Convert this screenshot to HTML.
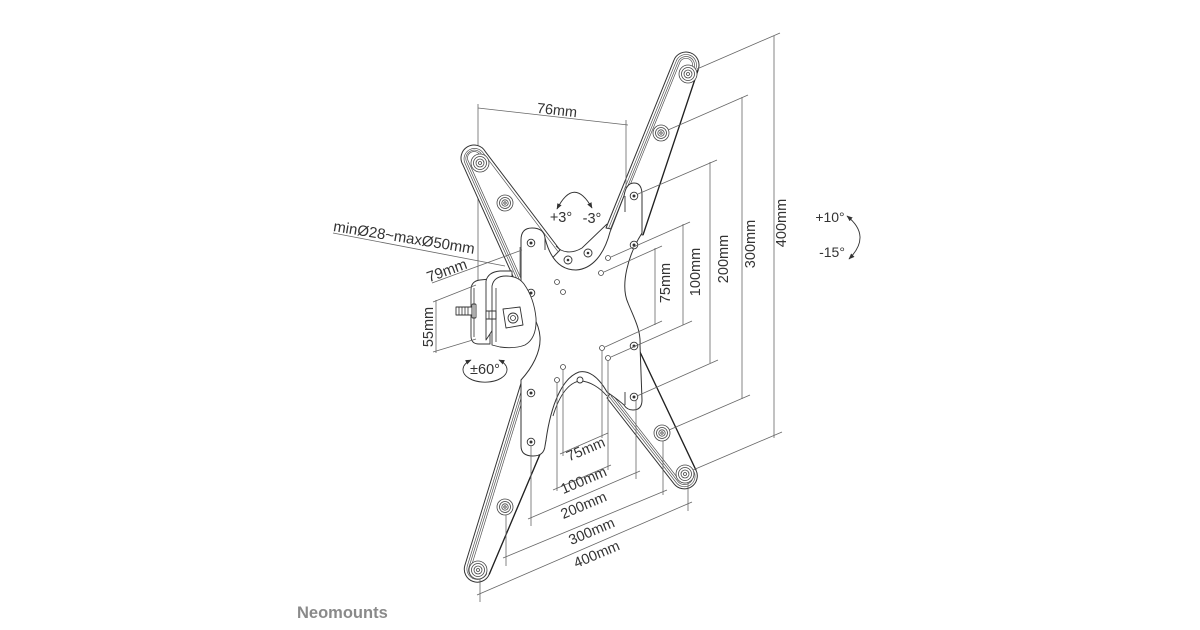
<!DOCTYPE html>
<html><head><meta charset="utf-8"><style>
html,body{margin:0;padding:0;background:#fff;}
svg{display:block;}
text{font-family:"Liberation Sans",sans-serif;fill:#333;}
</style></head><body>
<svg width="1200" height="630" viewBox="0 0 1200 630" xmlns="http://www.w3.org/2000/svg">
<defs>
<marker id="ah" viewBox="0 0 10 10" refX="9" refY="5" markerWidth="6" markerHeight="6" orient="auto-start-reverse" markerUnits="userSpaceOnUse"><path d="M0,1 L10,5 L0,9 z" fill="#333"/></marker>
</defs>
<rect width="1200" height="630" fill="#fff"/>

<g stroke="#666" stroke-width="0.8" fill="none">
<line x1="478" y1="104" x2="478" y2="288"/>
<line x1="333" y1="233" x2="505" y2="266"/>
</g>

<g stroke="#333" stroke-width="1" fill="#fff" stroke-linejoin="round">
<path d="M673.8,60.5 A13,13 0 0 1 698.2,69.5 L643,235 L606,228 Z"/>
<path d="M462.8,164.6 A13,13 0 0 1 485.2,151.4 L560,250 L520,292 Z"/>
<path d="M522,380 L464.8,565.6 A13,13 0 0 0 489.2,574.4 L546,440 L541,385 Q533,370 522,380 Z"/>
<path d="M640,352 L696,470.2 A13,13 0 0 1 674,483.8 L607,398 Z"/>
</g>
<g stroke="#222" stroke-width="1.3" fill="none">
<line x1="698.2" y1="69.5" x2="643" y2="235"/>
<line x1="489.2" y1="574.4" x2="546" y2="440"/>
<line x1="640" y1="352" x2="696" y2="470.2"/>
</g>
<g stroke="#555" stroke-width="0.7" fill="none">
<path d="M608.3,229 L676.1,61.4 A10.5,10.5 0 0 1 695.9,68.6"/>
<path d="M610.2,229.6 L678,62.1 A8.5,8.5 0 0 1 694,67.9"/>
<path d="M611.8,230 L679.7,62.8 A6.5,6.5 0 0 1 692.3,67.2"/>
<path d="M522.2,290.7 L465,163.3 A10.5,10.5 0 0 1 483,152.7 L557.8,251.3"/>
<path d="M523.9,289.7 L466.7,162.3 A8.5,8.5 0 0 1 481.3,153.7"/>
<path d="M525.6,288.7 L468.4,161.3 A6.5,6.5 0 0 1 479.6,154.7"/>
<path d="M524.4,381 L467.2,566.4 A10.5,10.5 0 0 0 486.8,573.6"/>
<path d="M526.2,381.5 L469,567.1 A8.5,8.5 0 0 0 485,572.9"/>
<path d="M528,382 L470.9,567.8 A6.5,6.5 0 0 0 483.1,572.2"/>
<path d="M609.1,396.7 L676.1,482.5 A10.5,10.5 0 0 0 693.9,471.5"/>
<path d="M610.8,395.6 L677.8,481.4 A8.5,8.5 0 0 0 692.2,472.6"/>
<path d="M612.5,394.6 L679.5,480.4 A6.5,6.5 0 0 0 690.5,473.6"/>
</g>
<g stroke="#444" stroke-width="0.8" fill="#fff">
<circle cx="688" cy="74" r="9"/><circle cx="688" cy="74" r="6.5"/><circle cx="688" cy="74" r="4"/><circle cx="688" cy="74" r="1.5"/>
<circle cx="661" cy="133" r="8"/><circle cx="661" cy="133" r="5.5"/><circle cx="661" cy="133" r="3.2"/><circle cx="661" cy="133" r="1.2"/>
<circle cx="480" cy="163" r="9"/><circle cx="480" cy="163" r="6.5"/><circle cx="480" cy="163" r="4"/><circle cx="480" cy="163" r="1.5"/>
<circle cx="505" cy="203" r="8"/><circle cx="505" cy="203" r="5.5"/><circle cx="505" cy="203" r="3.2"/><circle cx="505" cy="203" r="1.2"/>
<circle cx="478" cy="570" r="9"/><circle cx="478" cy="570" r="6.5"/><circle cx="478" cy="570" r="4"/><circle cx="478" cy="570" r="1.5"/>
<circle cx="505" cy="507" r="8"/><circle cx="505" cy="507" r="5.5"/><circle cx="505" cy="507" r="3.2"/><circle cx="505" cy="507" r="1.2"/>
<circle cx="662" cy="433" r="8"/><circle cx="662" cy="433" r="5.5"/><circle cx="662" cy="433" r="3.2"/><circle cx="662" cy="433" r="1.2"/>
<circle cx="685" cy="474" r="9"/><circle cx="685" cy="474" r="6.5"/><circle cx="685" cy="474" r="4"/><circle cx="685" cy="474" r="1.5"/>
</g>

<line x1="626" y1="120" x2="626" y2="208" stroke="#666" stroke-width="0.8"/>

<path d="M521,240 Q521,228 532,228 Q544,228 545,238 C550,258 560,270 576,270 C592,269 604,255 610,232 L624,196 Q626,183 634,183 Q642,183 642,195 L642,233 C628,255 620,285 628,303 C634,318 641,330 640,345 L642,400 Q642,410 633,410 Q627,410 624,405 C616,398 611,395 607,392 C598,376 588,370 579,372 C562,378 551,405 546,440 L545,446 Q544,456 533,456 Q521,456 521,446 L521,380 C532,368 541,352 540,337 C539,322 530,310 521,300 Z" fill="#fff" stroke="#333" stroke-width="1" stroke-linejoin="round"/>
<g stroke="#333" stroke-width="0.9" fill="none">
<path d="M556,246 C562,253 572,254 582,248 L607,224"/>
<path d="M553,416 C560,393 570,382 580,381 C590,381 600,388 607,396"/>
<line x1="625" y1="196" x2="625" y2="212"/>
<line x1="625" y1="392" x2="625" y2="405"/>
<line x1="545" y1="238" x2="545" y2="250"/>
</g>
<g stroke="#333" stroke-width="0.9" fill="#fff">
<circle cx="568" cy="260" r="4"/><circle cx="588" cy="253" r="4"/><circle cx="580" cy="380" r="3"/>
<circle cx="531" cy="243" r="3.8"/><circle cx="531" cy="293" r="3.8"/><circle cx="531" cy="393" r="3.8"/><circle cx="531" cy="442" r="3.8"/>
<circle cx="634" cy="196" r="3.8"/><circle cx="634" cy="245" r="3.8"/><circle cx="634" cy="346" r="3.8"/><circle cx="634" cy="397" r="3.8"/>
</g>
<g fill="#333">
<circle cx="531" cy="243" r="1.5"/><circle cx="531" cy="293" r="1.5"/><circle cx="531" cy="393" r="1.5"/><circle cx="531" cy="442" r="1.5"/>
<circle cx="634" cy="196" r="1.5"/><circle cx="634" cy="245" r="1.5"/><circle cx="634" cy="346" r="1.5"/><circle cx="634" cy="397" r="1.5"/>
<circle cx="568" cy="260" r="1.3"/><circle cx="588" cy="253" r="1.3"/>
</g>
<g stroke="#444" stroke-width="0.8" fill="#fff">
<circle cx="557" cy="282" r="2.5"/><circle cx="563" cy="292" r="2.5"/><circle cx="601" cy="273" r="2.5"/><circle cx="608" cy="258" r="2.5"/>
<circle cx="557" cy="380" r="2.5"/><circle cx="563" cy="367" r="2.5"/><circle cx="602" cy="348" r="2.5"/><circle cx="608" cy="358" r="2.5"/>
</g>

<g stroke="#333" stroke-width="0.9" fill="#fff" stroke-linejoin="round">
<path d="M471,290 Q471,281 480,280 L490,279 L490,344 L479,344 Q471,344 471,336 Z"/>
<path d="M486,281 Q488,272 500,271 L512,271 L512,300 L486,340 Z" fill="#fff"/>
<path d="M492,286 Q494,276 506,276 Q518,276 524,284 Q534,298 536,318 Q537,338 525,345 Q515,349 500,347 L492,345 Z"/>
<rect x="456" y="307" width="16" height="8"/>
<rect x="472" y="304" width="4" height="14" rx="1"/>
<rect x="486" y="311" width="10" height="8"/>
<path d="M503,309 L520,307 L523,325 L506,328 Z"/>
<circle cx="513" cy="318" r="5"/>
</g>
<g stroke="#333" stroke-width="0.8" fill="none">
<line x1="474" y1="288" x2="474" y2="337"/>
<line x1="496" y1="288" x2="496" y2="342"/>
<line x1="459" y1="307" x2="459" y2="315"/><line x1="462" y1="307" x2="462" y2="315"/><line x1="465" y1="307" x2="465" y2="315"/><line x1="468" y1="307" x2="468" y2="315"/>
<line x1="489" y1="311" x2="489" y2="319"/><line x1="492" y1="311" x2="492" y2="319"/>
<circle cx="513" cy="318" r="2.5"/>
</g>

<g stroke="#666" stroke-width="0.8" fill="none">
<line x1="478" y1="108" x2="628" y2="125"/>
<line x1="432" y1="283" x2="522" y2="250"/>
<line x1="520" y1="247" x2="520" y2="277"/>
<line x1="436" y1="300" x2="436" y2="353"/>
<line x1="433" y1="302" x2="476" y2="285"/>
<line x1="433" y1="352" x2="476" y2="339"/>
<line x1="697" y1="69" x2="780" y2="33"/>
<line x1="668" y1="130" x2="748" y2="95"/>
<line x1="638" y1="194" x2="717" y2="160"/>
<line x1="611" y1="257" x2="690" y2="222"/>
<line x1="604" y1="272" x2="662" y2="246"/>
<line x1="605" y1="347" x2="662" y2="321"/>
<line x1="611" y1="357" x2="692" y2="321"/>
<line x1="637" y1="396" x2="718" y2="360"/>
<line x1="669" y1="430" x2="750" y2="395"/>
<line x1="693" y1="470" x2="782" y2="432"/>
<line x1="655" y1="248" x2="655" y2="325"/>
<line x1="683" y1="224" x2="683" y2="325"/>
<line x1="710" y1="162" x2="710" y2="363"/>
<line x1="742" y1="97" x2="742" y2="399"/>
<line x1="774" y1="36" x2="774" y2="438"/>
<line x1="563" y1="370" x2="563" y2="456"/><line x1="602" y1="351" x2="602" y2="438"/>
<line x1="557" y1="383" x2="557" y2="491"/><line x1="608" y1="361" x2="608" y2="470"/>
<line x1="531" y1="446" x2="531" y2="526"/><line x1="636" y1="400" x2="636" y2="479"/>
<line x1="506" y1="515" x2="506" y2="566"/><line x1="663" y1="441" x2="663" y2="495"/>
<line x1="480" y1="579" x2="480" y2="602"/><line x1="688" y1="483" x2="688" y2="511"/>
<line x1="560" y1="454" x2="608" y2="433"/>
<line x1="553" y1="490" x2="611" y2="465"/>
<line x1="528" y1="519" x2="640" y2="471"/>
<line x1="503" y1="558" x2="667" y2="490"/>
<line x1="477" y1="595" x2="692" y2="502"/>
</g>

<g stroke="#333" stroke-width="0.9" fill="none">
<path d="M557,209 Q574,176 592,208" marker-start="url(#ah)" marker-end="url(#ah)"/>
<path d="M471,360 A22,12.5 0 1 0 499,360" marker-start="url(#ah)" marker-end="url(#ah)"/>
<path d="M847,216 Q872,236 849,259" marker-start="url(#ah)" marker-end="url(#ah)"/>
</g>

<g font-size="14.5" text-anchor="middle" dominant-baseline="central">
<text x="557" y="111" transform="rotate(6.5 557 111)">76mm</text>
<text x="561" y="218">+3°</text>
<text x="592" y="219">-3°</text>
<text x="404" y="238" font-size="15" transform="rotate(9.2 404 238)">minØ28~maxØ50mm</text>
<text x="447" y="271" font-size="15" transform="rotate(-20 447 271)">79mm</text>
<text x="429" y="327" transform="rotate(-90 429 327)">55mm</text>
<text x="485" y="370">±60°</text>
<text x="666" y="283" transform="rotate(-90 666 283)">75mm</text>
<text x="696" y="272" transform="rotate(-90 696 272)">100mm</text>
<text x="724" y="259" transform="rotate(-90 724 259)">200mm</text>
<text x="751" y="244" transform="rotate(-90 751 244)">300mm</text>
<text x="782" y="223" transform="rotate(-90 782 223)">400mm</text>
<text x="586" y="450" transform="rotate(-23 586 450)">75mm</text>
<text x="584" y="481" transform="rotate(-23 584 481)">100mm</text>
<text x="584" y="506" transform="rotate(-23 584 506)">200mm</text>
<text x="592" y="532" transform="rotate(-23 592 532)">300mm</text>
<text x="597" y="555" transform="rotate(-23 597 555)">400mm</text>
<text x="830" y="217" font-size="14">+10°</text>
<text x="832" y="252" font-size="14">-15°</text>
</g>
<text x="297" y="618" font-size="16.5" font-weight="bold" style="fill:#8a8a8a">Neomounts</text>
</svg>
</body></html>
